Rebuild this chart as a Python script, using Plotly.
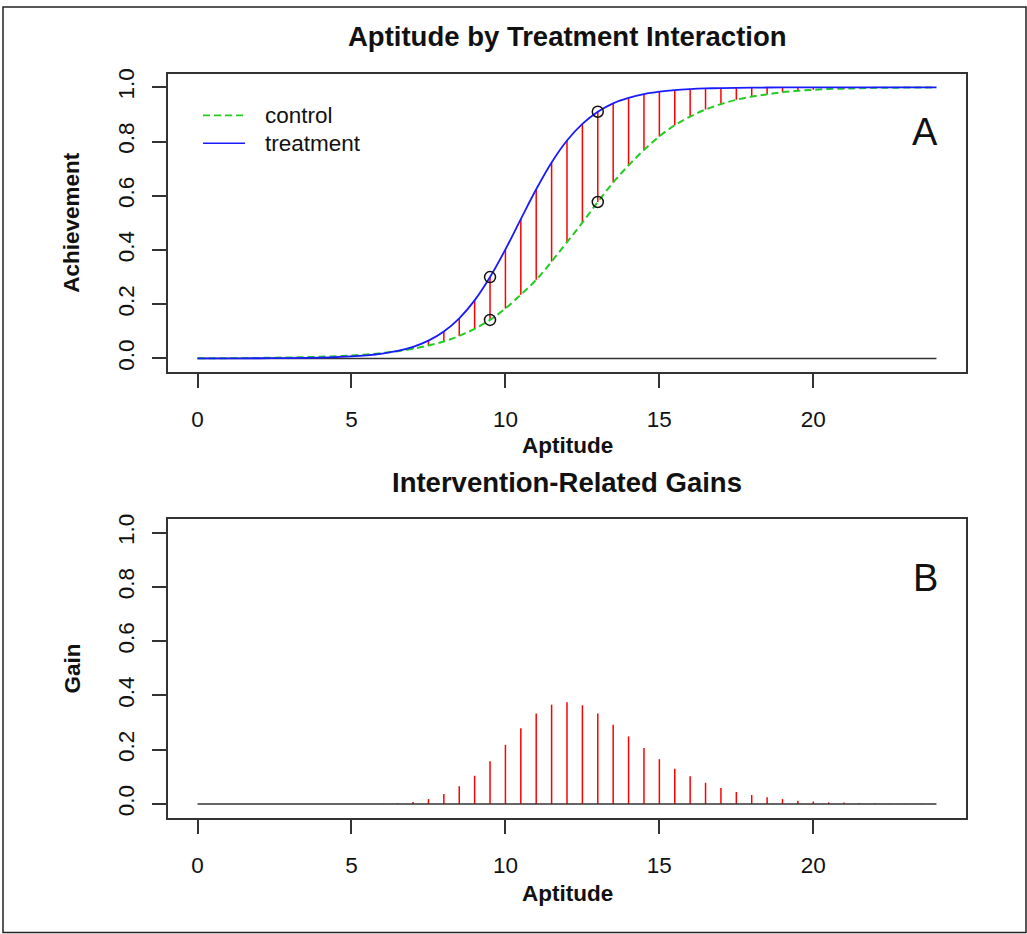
import plotly.graph_objects as go

# ---------------- data ----------------
aptitude = [0, 0.5, 1, 1.5, 2, 2.5, 3, 3.5, 4, 4.5, 5, 5.5, 6, 6.5, 7, 7.5, 8, 8.5,
            9, 9.5, 10, 10.5, 11, 11.5, 12, 12.5, 13, 13.5, 14, 14.5, 15, 15.5, 16,
            16.5, 17, 17.5, 18, 18.5, 19, 19.5, 20, 20.5, 21, 21.5, 22, 22.5, 23,
            23.5, 24]

treatment = [0.0001, 0.0001, 0.0002, 0.0003, 0.0005, 0.0008, 0.0012, 0.0019, 0.0030,
             0.0047, 0.0073, 0.0114, 0.0178, 0.0277, 0.0428, 0.0656, 0.0994, 0.148,
             0.214, 0.300, 0.402, 0.514, 0.624, 0.723, 0.804, 0.865, 0.910, 0.941,
             0.961, 0.975, 0.984, 0.990, 0.9935, 0.9958, 0.9973, 0.9983, 0.9989,
             0.9993, 0.9996, 0.9997, 0.9998, 0.9999, 0.9999, 1.0, 1.0, 1.0, 1.0,
             1.0, 1.0]

control = [0.0006, 0.0007, 0.0010, 0.0014, 0.0018, 0.0025, 0.0033, 0.0045, 0.0060,
           0.0081, 0.0109, 0.0146, 0.0196, 0.0263, 0.0355, 0.0476, 0.0624, 0.083,
           0.109, 0.142, 0.184, 0.235, 0.290, 0.357, 0.429, 0.501, 0.577, 0.649,
           0.712, 0.769, 0.819, 0.860, 0.892, 0.918, 0.938, 0.954, 0.966, 0.974,
           0.982, 0.987, 0.991, 0.994, 0.995, 0.997, 0.998, 0.9985, 0.999, 0.9993,
           0.9995]

gain = [0, 0, 0, 0, 0, 0, 0, 0, 0, 0, 0, 0, 0.001, 0.002, 0.007, 0.018, 0.037,
        0.065, 0.104, 0.157, 0.218, 0.279, 0.333, 0.366, 0.375, 0.364, 0.333, 0.292,
        0.249, 0.206, 0.165, 0.130, 0.102, 0.078, 0.059, 0.044, 0.033, 0.025, 0.018,
        0.012, 0.009, 0.006, 0.005, 0.003, 0.002, 0.0015, 0.001, 0.001, 0.0005]

highlight_x = [9.5, 13]

x_ticks = [0, 5, 10, 15, 20]
y_ticks = [0.0, 0.2, 0.4, 0.6, 0.8, 1.0]
y_ticklabels = ["0.0", "0.2", "0.4", "0.6", "0.8", "1.0"]

series_names = ["control", "treatment"]
titles = ["Aptitude by Treatment Interaction", "Intervention-Related Gains"]
panel_letters = ["A", "B"]

# ---------------- styling ----------------
W, H = 1027, 934
FONT = "Liberation Sans, Arial, Helvetica, sans-serif"
AXC = "#333333"
GREEN = "#22cc22"
BLUE = "#1a1aff"
RED = "#ff0000"
FS = 22.5


def px(xp):
    return xp / W


def py(yp):
    return 1 - yp / H


fig = go.Figure()

# ---- top panel ----
seg_x, seg_y = [], []
for xv, c, t in zip(aptitude, control, treatment):
    seg_x += [xv, xv, None]
    seg_y += [c, t, None]
fig.add_trace(go.Scatter(x=seg_x, y=seg_y, mode="lines",
                         line=dict(color=RED, width=1.5), xaxis="x", yaxis="y",
                         showlegend=False, hoverinfo="skip"))
fig.add_trace(go.Scatter(x=[aptitude[0], aptitude[-1]], y=[0, 0], mode="lines",
                         line=dict(color=AXC, width=1.5), xaxis="x", yaxis="y",
                         showlegend=False))
fig.add_trace(go.Scatter(x=aptitude, y=control, mode="lines", name=series_names[0],
                         line=dict(color=GREEN, width=2, dash="7px,4px", shape="spline"),
                         xaxis="x", yaxis="y", showlegend=False))
fig.add_trace(go.Scatter(x=aptitude, y=treatment, mode="lines", name=series_names[1],
                         line=dict(color=BLUE, width=1.8, shape="spline"),
                         xaxis="x", yaxis="y", showlegend=False))
cx, cy = [], []
for hx in highlight_x:
    i = aptitude.index(hx)
    cx += [hx, hx]
    cy += [treatment[i], control[i]]
fig.add_trace(go.Scatter(x=cx, y=cy, mode="markers",
                         marker=dict(symbol="circle-open", size=11, color="#111111",
                                     line=dict(width=1.5)),
                         xaxis="x", yaxis="y", showlegend=False))

# ---- bottom panel ----
gx, gy = [], []
for xv, g in zip(aptitude, gain):
    gx += [xv, xv, None]
    gy += [0, g, None]
fig.add_trace(go.Scatter(x=gx, y=gy, mode="lines", line=dict(color=RED, width=1.5),
                         xaxis="x2", yaxis="y2", showlegend=False, hoverinfo="skip"))
fig.add_trace(go.Scatter(x=[aptitude[0], aptitude[-1]], y=[0, 0], mode="lines",
                         line=dict(color=AXC, width=1.5), xaxis="x2", yaxis="y2",
                         showlegend=False))

# ---------------- axes ----------------
xdom = [px(168), px(966)]
top_dom = [py(369.3), py(69)]
bot_dom = [py(817.3), py(516.7)]
xr = [-0.96, 24.96]
yr = [-0.0514, 1.0505]

common_x = dict(range=xr, tickvals=x_ticks, ticks="outside", ticklen=14, tickwidth=1.5,
                tickcolor=AXC, showline=True, mirror=True, linecolor=AXC, linewidth=1.5,
                showgrid=False, zeroline=False, tickfont=dict(family=FONT, size=FS, color="#111"),
                ticklabelstandoff=12)
common_y = dict(range=yr, tickvals=y_ticks, ticktext=y_ticklabels, tickangle=-90,
                ticks="outside", ticklen=14, tickwidth=1.5, tickcolor=AXC, showline=True,
                mirror=True, linecolor=AXC, linewidth=1.5, showgrid=False, zeroline=False,
                tickfont=dict(family=FONT, size=FS, color="#111"), ticklabelstandoff=9)

fig.update_layout(
    width=W, height=H, margin=dict(l=0, r=0, t=0, b=0),
    paper_bgcolor="white", plot_bgcolor="white", showlegend=False,
    xaxis=dict(domain=xdom, anchor="y", **common_x),
    yaxis=dict(domain=top_dom, anchor="x", **common_y),
    xaxis2=dict(domain=xdom, anchor="y2", **common_x),
    yaxis2=dict(domain=bot_dom, anchor="x2", **common_y),
)

# ---------------- text ----------------
ann = []
for title, yc in zip(titles, [32, 480]):
    ann.append(dict(text="<b>%s</b>" % title, x=px(567), y=py(yc), xref="paper",
                    yref="paper", showarrow=False, xanchor="center", yanchor="middle",
                    font=dict(family=FONT, size=27.5, color="#111")))
for yc in [443, 893]:
    ann.append(dict(text="<b>Aptitude</b>", x=px(567), y=py(yc), xref="paper",
                    yref="paper", showarrow=False, xanchor="center", yanchor="middle",
                    font=dict(family=FONT, size=FS, color="#111")))
for lab, yc in [("Achievement", 219), ("Gain", 667)]:
    ann.append(dict(text="<b>%s</b>" % lab, x=px(72), y=py(yc), xref="paper",
                    yref="paper", showarrow=False, xanchor="center", yanchor="middle",
                    textangle=-90, font=dict(family=FONT, size=FS, color="#111")))
for lab, yc in zip(panel_letters, [128, 576]):
    ann.append(dict(text=lab, x=px(925), y=py(yc), xref="paper", yref="paper",
                    showarrow=False, xanchor="center", yanchor="middle",
                    font=dict(family=FONT, size=38, color="#111")))
# legend
legend_rows = [(series_names[0], 111, GREEN, "dash"), (series_names[1], 139, BLUE, "solid")]
shapes = []
for name, yc, col, dash in legend_rows:
    ann.append(dict(text=name, x=px(263), y=py(yc), xref="paper", yref="paper",
                    showarrow=False, xanchor="left", yanchor="middle",
                    font=dict(family=FONT, size=FS, color="#111")))
    shapes.append(dict(type="line", xref="paper", yref="paper", x0=px(203), x1=px(245),
                       y0=py(yc), y1=py(yc),
                       line=dict(color=col, width=1.6, dash="7px,4px" if dash == "dash" else "solid")))
# outer frame
shapes.append(dict(type="rect", xref="paper", yref="paper", x0=px(3), x1=px(1026),
                   y0=py(932.5), y1=py(2), line=dict(color="#222", width=1.5)))
fig.update_layout(annotations=ann, shapes=shapes)

fig.write_html("out.html", config={"displayModeBar": False},
               post_script="document.body.style.margin='0';document.body.style.padding='0';")
